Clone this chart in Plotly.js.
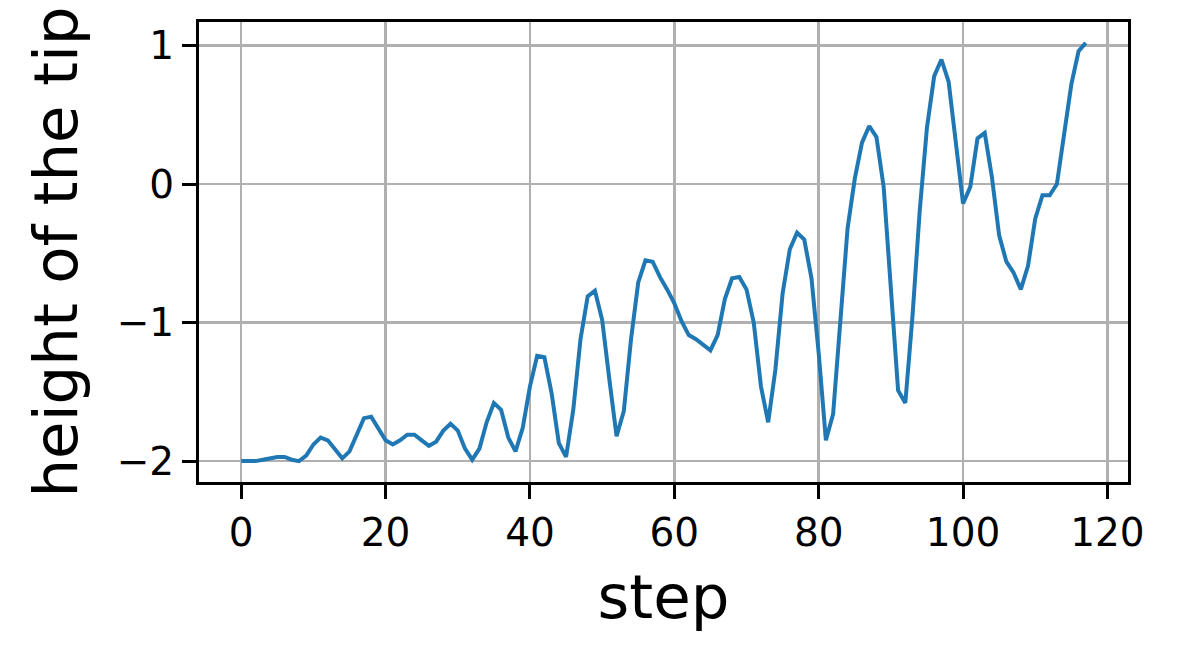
<!DOCTYPE html>
<html>
<head>
<meta charset="utf-8">
<script src="https://cdn.plot.ly/plotly-3.0.1.min.js"></script>
<style>html,body{margin:0;padding:0;background:#fff;}#chart{width:1179px;height:662px;}</style>
</head>
<body>
<div id="chart"></div>
<script>
const steps = Array.from({length: 118}, (_, i) => i);
const tipHeight = [
  -2.00, -2.00, -2.00, -1.99, -1.98, -1.97, -1.97, -1.99, -2.00, -1.96,
  -1.88, -1.83, -1.85, -1.92, -1.98, -1.93, -1.81, -1.69, -1.68, -1.77,
  -1.85, -1.88, -1.85, -1.81, -1.81, -1.85, -1.89, -1.86, -1.78, -1.73,
  -1.78, -1.91, -1.99, -1.91, -1.72, -1.58, -1.63, -1.83, -1.93, -1.76,
  -1.46, -1.24, -1.25, -1.51, -1.87, -1.97, -1.63, -1.12, -0.81, -0.77,
  -0.98, -1.41, -1.82, -1.64, -1.12, -0.71, -0.55, -0.56, -0.67, -0.76,
  -0.86, -0.99, -1.09, -1.12, -1.16, -1.20, -1.09, -0.83, -0.68, -0.67,
  -0.76, -1.00, -1.46, -1.72, -1.34, -0.79, -0.47, -0.35, -0.40, -0.68,
  -1.22, -1.85, -1.66, -0.95, -0.32, 0.04, 0.30, 0.42, 0.34, -0.02,
  -0.74, -1.49, -1.58, -0.95, -0.19, 0.41, 0.78, 0.90, 0.74, 0.27,
  -0.14, -0.02, 0.33, 0.37, 0.05, -0.37, -0.56, -0.64, -0.76, -0.59,
  -0.25, -0.08, -0.08, 0.00, 0.34, 0.72, 0.96, 1.02
];
const xTickVals = [0, 20, 40, 60, 80, 100, 120];
const xTickText = ['0', '20', '40', '60', '80', '100', '120'];
const yTickVals = [-2, -1, 0, 1];
const yTickText = ['\u22122', '\u22121', '0', '1'];

const font = 'DejaVu Sans, sans-serif';
const axisCommon = {
  showline: true, linecolor: '#000', linewidth: 3, mirror: true,
  showgrid: true, gridcolor: '#b0b0b0', gridwidth: 2.5,
  zeroline: false,
  ticks: 'outside', ticklen: 14, tickwidth: 3, tickcolor: '#000',
  tickfont: {family: font, size: 39, color: '#000'},
  tickmode: 'array'
};

const data = [{
  x: steps, y: tipHeight, type: 'scatter', mode: 'lines',
  line: {color: '#1f77b4', width: 4}
}];

const layout = {
  width: 1179, height: 662,
  paper_bgcolor: '#fff', plot_bgcolor: '#fff',
  showlegend: false,
  margin: {l: 199, r: 51, t: 22, b: 180},
  xaxis: Object.assign({}, axisCommon, {
    range: [-5.85, 122.85],
    tickvals: xTickVals, ticktext: xTickText,
    title: {text: 'step', font: {family: font, size: 61, color: '#000'}, standoff: 22}
  }),
  yaxis: Object.assign({}, axisCommon, {
    range: [-2.151, 1.171],
    tickvals: yTickVals, ticktext: yTickText,
    title: {text: 'height of the tip', font: {family: font, size: 61, color: '#000'}, standoff: 20}
  })
};

Plotly.newPlot('chart', data, layout, {displayModeBar: false, staticPlot: true});
</script>
</body>
</html>
